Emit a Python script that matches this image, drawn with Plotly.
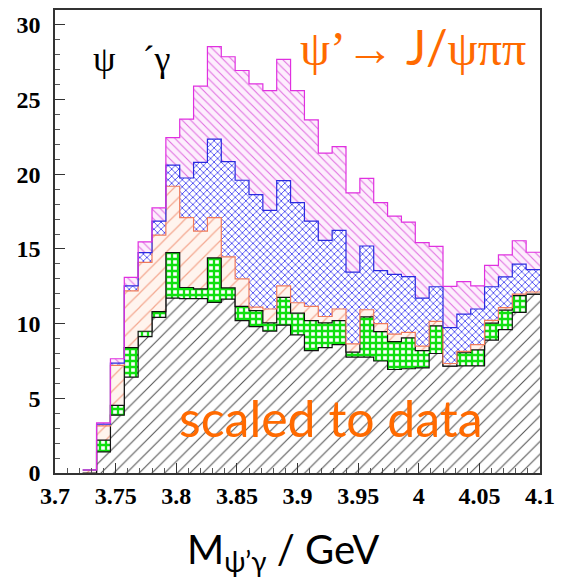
import numpy as np
import plotly.graph_objects as go

# 35 bins between 3.7 and 4.1 GeV
bin_edges = np.linspace(3.7, 4.1, 36)

# per-bin contributions of each stacked component (events / bin)
grey_counts = [0, 0, 0, 1.42, 3.87, 6.42, 9.13, 10.42, 11.71, 11.67,
               11.67, 11.42, 11.64, 10.2, 9.8, 9.5, 9.9, 9.25, 8.2, 8.4,
               8.6, 7.76, 7.76, 7.5, 6.93, 6.98, 7.04, 8.0, 7.15, 7.17,
               7.17, 8.9, 9.6, 10.76, 11.98]
green_counts = [0, 0, 0, 0.78, 0.66, 1.98, 0.36, 0.38, 3.04, 0.75,
                0.66, 2.98, 0.76, 0.95, 1.07, 0.55, 1.86, 1.45, 2.0, 1.65,
                1.6, 0.33, 2.69, 1.97, 1.87, 2.07, 1.16, 1.85, 0, 0.88,
                1.08, 1.13, 1.3, 1.11, 0]
orange_counts = [0, 0, 0.2, 0.95, 2.67, 3.8, 4.61, 5.13, 4.45, 4.68,
                 3.87, 2.7, 2.07, 1.85, 0.23, 0.93, 0.77, 0.7, 0.95, 0.43,
                 0.78, 0.56, 0.48, 0.53, 0.5, 0.37, 0.3, 0.3, 0.18, 0.1,
                 0.35, 0.19, 0.17, 0.1, 0.14]
blue_counts = [0, 0, 0, 0.12, 0.15, 0.33, 0.65, 0.94, 1.42, 2.65,
               4.6, 5.25, 6.38, 6.6, 7.54, 6.6, 7.05, 6.7, 5.72, 5.1,
               5.26, 4.8, 4.27, 3.55, 4.0, 3.73, 3.21, 2.32, 2.4, 2.49,
               2.38, 2.25, 2.06, 2.01, 1.5]
magenta_counts = [0, 0, 0, 0.08, 0.3, 0.57, 0.72, 0.88, 1.83, 3.95,
                  5.1, 6.2, 7.02, 7.35, 7.41, 8.02, 8.12, 7.5, 6.77, 5.84,
                  5.61, 5.31, 4.52, 4.55, 3.9, 3.65, 3.71, 2.7, 2.77, 2.18,
                  1.55, 1.43, 1.47, 1.57, 1.16]

x_ticks = [3.7, 3.75, 3.8, 3.85, 3.9, 3.95, 4.0, 4.05, 4.1]
x_tick_text = ["3.7", "3.75", "3.8", "3.85", "3.9", "3.95", "4", "4.05", "4.1"]
y_ticks = [0, 5, 10, 15, 20, 25, 30]

ORANGE = "#ff6a00"
SERIF = "Liberation Serif, Times New Roman, serif"
SANS = "Lato, sans-serif"

layers = [
    # counts, outline colour, pattern shape, pattern colour, background, size, solidity
    (grey_counts, "#111111", "/", "#555555", "#ffffff", 9, 0.12),
    (green_counts, "#111111", "+", "#10e010", "#ffffff", 6, 0.62),
    (orange_counts, "#f07a5a", "/", "#f4a890", "#fff4ee", 10, 0.12),
    (blue_counts, "#2a2ae0", "x", "#3c3cf0", "#ffffff", 5, 0.3),
    (magenta_counts, "#e030e0", "\\", "#e070e0", "#fdeefd", 6, 0.18),
]

# skip the leading empty bins so no outline runs along the axis there
first = next(i for i in range(len(grey_counts))
             if grey_counts[i] + green_counts[i] + orange_counts[i]
             + blue_counts[i] + magenta_counts[i] > 0)

fig = go.Figure()
for counts, line_col, shape, fg, bg, size, solid in layers:
    y = list(counts[first:]) + [counts[-1]]
    fig.add_trace(go.Scatter(
        x=bin_edges[first:], y=y, mode="lines",
        line=dict(shape="hv", color=line_col, width=1.2),
        stackgroup="stack",
        fillcolor=bg,
        fillpattern=dict(shape=shape, fgcolor=fg, bgcolor=bg, size=size,
                         solidity=solid, fillmode="replace"),
        hoverinfo="skip", showlegend=False,
    ))

tick_font = dict(family=SERIF, size=24, color="#000000", weight="bold")

fig.update_xaxes(
    range=[3.7, 4.1], tickvals=x_ticks, ticktext=x_tick_text,
    ticks="inside", ticklen=10, tickwidth=1, tickcolor="#333333",
    minor=dict(ticks="inside", dtick=0.01, ticklen=5, tickcolor="#555555"),
    showline=True, linecolor="#333333", linewidth=1.5, mirror=True,
    showgrid=False, zeroline=False, tickfont=tick_font,
    ticklabeloverflow="allow", ticklabelstandoff=0,
)
fig.update_yaxes(
    range=[0, 31], tickvals=y_ticks,
    ticks="inside", ticklen=10, tickwidth=1, tickcolor="#333333",
    minor=dict(ticks="inside", dtick=1, ticklen=5, tickcolor="#555555"),
    showline=True, linecolor="#333333", linewidth=1.5, mirror=True,
    showgrid=False, zeroline=False, tickfont=tick_font,
    ticklabelstandoff=8,
)

fig.add_annotation(
    xref="paper", yref="paper", x=0.158, y=0.895,
    xanchor="center", yanchor="middle",
    text="ψ   ´γ", showarrow=False,
    font=dict(family=SERIF, size=36, color="#000000"),
)
fig.add_annotation(
    xref="paper", yref="paper", x=0.738, y=0.922,
    xanchor="center", yanchor="middle",
    text="ψ’→ <span style=\"font-family:Lato\">J/</span>ψππ",
    showarrow=False,
    font=dict(family=SERIF, size=48, color=ORANGE),
)
fig.add_annotation(
    xref="paper", yref="paper", x=0.569, y=0.118,
    xanchor="center", yanchor="middle",
    text="scaled to data", showarrow=False,
    font=dict(family=SANS, size=50, color=ORANGE),
)
fig.add_annotation(
    xref="paper", yref="paper", x=0.47, y=-0.17,
    xanchor="center", yanchor="middle",
    text="M<sub>ψ’γ</sub> / GeV", showarrow=False,
    font=dict(family=SANS, size=40, color="#000000"),
)

fig.update_layout(
    width=563, height=587,
    margin=dict(l=55, r=13, t=8, b=114),
    paper_bgcolor="#ffffff", plot_bgcolor="#ffffff",
)

fig.write_html("out.html")
